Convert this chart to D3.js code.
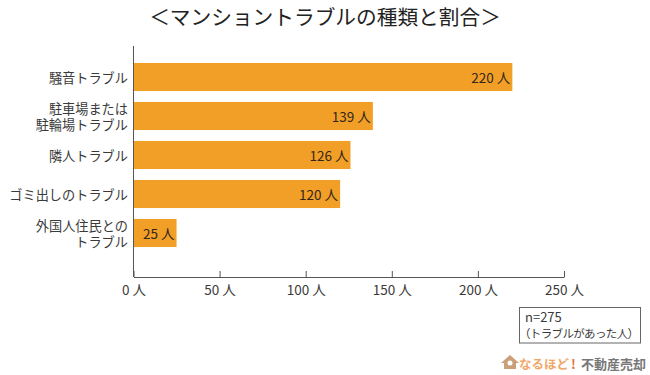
<!DOCTYPE html>
<html>
<head>
<meta charset="utf-8">
<script src="https://cdn.jsdelivr.net/npm/d3@7/dist/d3.min.js"></script>
<style>
  html, body { margin: 0; padding: 0; background: #fff; }
  svg { display: block; }
  text { font-family: "Noto Sans CJK JP", "Noto Sans", sans-serif; fill: #3a3a3a; }
</style>
</head>
<body>
<svg id="chart" width="650" height="375"></svg>
<script>
const categories = [
  ["騒音トラブル"],
  ["駐車場または", "駐輪場トラブル"],
  ["隣人トラブル"],
  ["ゴミ出しのトラブル"],
  ["外国人住民との", "トラブル"]
];
const values = [220, 139, 126, 120, 25];
const xTicks = [0, 50, 100, 150, 200, 250];
const titleText = "＜マンショントラブルの種類と割合＞";
const noteLines = ["n=275", "（トラブルがあった人）"];

const MARGIN = {top: 46, left: 133.5, right: 86, bottom: 98};
const WIDTH = 650 - MARGIN.left - MARGIN.right;
const HEIGHT = 375 - MARGIN.top - MARGIN.bottom;

const svg = d3.select("#chart");

svg.append("text")
  .attr("x", 325)
  .attr("y", 25)
  .attr("text-anchor", "middle")
  .style("font-size", "20.7px")
  .style("fill", "#222")
  .text(titleText);

const g = svg.append("g")
  .attr("transform", `translate(${MARGIN.left},${MARGIN.top})`);

const xScale = d3.scaleLinear().domain([0, 250]).range([0, WIDTH]);

// band positions: five rows of 39px, with a little extra room under the last
const yScale = d3.scaleBand()
  .domain(d3.range(categories.length))
  .range([11.5, 11.5 + 39 * categories.length])
  .paddingInner(0.28)
  .paddingOuter(0.14);

g.selectAll("rect.bar")
  .data(values)
  .join("rect")
  .attr("class", "bar")
  .attr("x", 0)
  .attr("y", (d, i) => yScale(i))
  .attr("width", d => xScale(d))
  .attr("height", yScale.bandwidth())
  .attr("fill", "#f19f27");

g.selectAll("text.value")
  .data(values)
  .join("text")
  .attr("class", "value")
  .attr("x", d => xScale(d) - 2)
  .attr("y", (d, i) => yScale(i) + yScale.bandwidth() / 2 + 6)
  .attr("text-anchor", "end")
  .style("font-size", "13.5px")
  .style("fill", "#33261a")
  .text(d => d + " 人");

// category labels, right aligned against the axis
const labels = g.selectAll("text.cat")
  .data(categories)
  .join("text")
  .attr("class", "cat")
  .attr("text-anchor", "end")
  .style("font-size", "13.2px");

labels.each(function(lines, i) {
  const mid = yScale(i) + yScale.bandwidth() / 2;
  d3.select(this).selectAll("tspan")
    .data(lines)
    .join("tspan")
    .attr("x", -5.5)
    .attr("y", (d, j) => mid + 5.5 + (j - (lines.length - 1) / 2) * 16)
    .text(d => d);
});

const xAxis = g.append("g")
  .attr("transform", `translate(0,${HEIGHT})`)
  .call(d3.axisBottom(xScale).tickValues(xTicks).tickSize(-6).tickSizeOuter(0).tickPadding(8).tickFormat(d => d + " 人"));
xAxis.select(".domain").attr("stroke", "#555");
xAxis.selectAll(".tick line").attr("stroke", "#555");
xAxis.selectAll(".tick text").style("font-size", "13.5px").attr("fill", null);

g.append("line")
  .attr("x1", 0).attr("x2", 0)
  .attr("y1", 0).attr("y2", HEIGHT)
  .attr("stroke", "#555");

// n= note box
svg.append("rect")
  .attr("x", 519.5).attr("y", 307.5)
  .attr("width", 121).attr("height", 35.5)
  .attr("fill", "#fff")
  .attr("stroke", "#666");
svg.append("text")
  .attr("x", 525).attr("y", 322)
  .style("font-size", "13px")
  .text(noteLines[0]);
svg.append("text")
  .attr("x", 519).attr("y", 338)
  .style("font-size", "11.5px")
  .attr("textLength", 120)
  .text(noteLines[1]);

// logo
const logo = svg.append("g").attr("transform", "translate(501,356)");
logo.append("path")
  .attr("d", "M0,7 L9,-1 L18,7 L15,7 L15,13 L3,13 L3,7 Z")
  .attr("fill", "#c9a078");
logo.append("circle").attr("cx", 9).attr("cy", 7).attr("r", 2.5).attr("fill", "#fff");
svg.append("text")
  .attr("x", 519).attr("y", 369)
  .style("font-size", "12.5px")
  .style("font-weight", "700")
  .style("fill", "#f0a868")
  .text("なるほど");
svg.append("text")
  .attr("x", 571).attr("y", 369)
  .style("font-size", "13px")
  .style("font-weight", "700")
  .style("fill", "#e2733d")
  .text("!");
svg.append("text")
  .attr("x", 581).attr("y", 369)
  .style("font-size", "13px")
  .style("font-weight", "700")
  .style("fill", "#777")
  .text("不動産売却");
</script>
</body>
</html>
